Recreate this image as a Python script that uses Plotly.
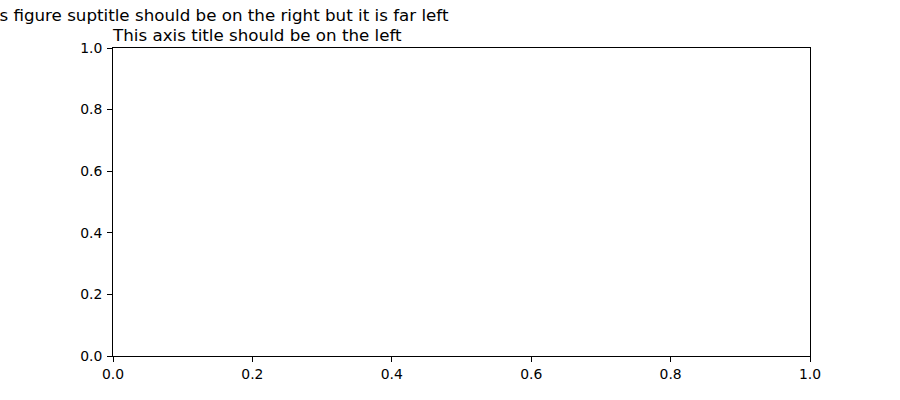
import plotly.graph_objects as go

# Data: the reference axes are empty
x_values = []
y_values = []
tick_vals = [0.0, 0.2, 0.4, 0.6, 0.8, 1.0]
tick_text = ["0.0", "0.2", "0.4", "0.6", "0.8", "1.0"]
suptitle = "This figure suptitle should be on the right but it is far left"
axis_title = "This axis title should be on the left"

FONT = "DejaVu Sans"

fig = go.Figure(go.Scatter(x=x_values, y=y_values, mode="markers", showlegend=False))

axis_common = dict(
    range=[0, 1],
    tickvals=tick_vals,
    ticktext=tick_text,
    showgrid=False,
    zeroline=False,
    showline=True,
    linecolor="black",
    linewidth=1,
    mirror=True,
    ticks="outside",
    ticklen=5,
    tickwidth=1,
    tickcolor="black",
    tickfont=dict(family=FONT, size=13.9, color="black"),
    fixedrange=True,
)

fig.update_layout(
    width=900,
    height=400,
    margin=dict(l=113, r=90, t=48, b=44),
    paper_bgcolor="white",
    plot_bgcolor="white",
    xaxis=dict(**axis_common, ticklabelstandoff=0),
    yaxis=dict(**axis_common, ticklabelstandoff=2),
    annotations=[
        dict(
            text=suptitle,
            xref="paper", yref="paper",
            x=(451 - 113) / 697, y=1,
            xanchor="right", yanchor="bottom",
            yshift=21,
            showarrow=False,
            font=dict(family=FONT, size=16.7, color="black"),
        ),
        dict(
            text=axis_title,
            xref="paper", yref="paper",
            x=0, y=1,
            xanchor="left", yanchor="bottom",
            xshift=-3,
            yshift=1,
            showarrow=False,
            font=dict(family=FONT, size=16.7, color="black"),
        ),
    ],
)

fig.write_html(
    "out.html",
    config={"displayModeBar": False},
    post_script="document.body.style.margin='0px';",
)
